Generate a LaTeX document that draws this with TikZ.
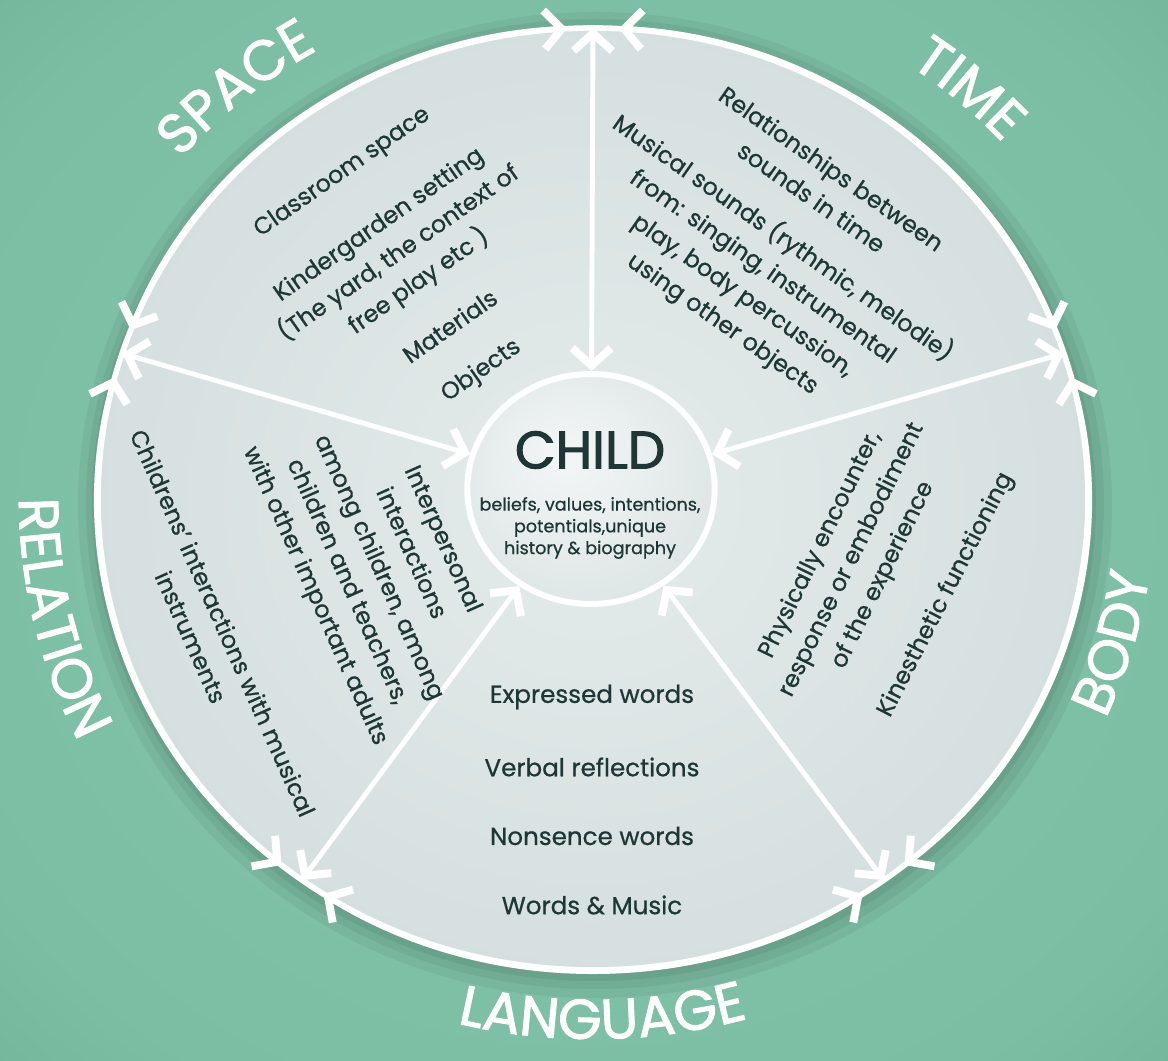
\documentclass[tikz,border=0pt]{standalone}
\usepackage{fontspec}
\setmainfont{Poppins}[FakeBold=0.7]
\usepackage{xcolor}
\usetikzlibrary{arrows.meta, calc, decorations.text, shapes.geometric}

\definecolor{meadowin}{HTML}{88C6AE}
\definecolor{meadow}{HTML}{7BBEA3}
\definecolor{meadowout}{HTML}{5EA88B}
\definecolor{diskin}{HTML}{E4EBEB}
\definecolor{diskmid}{HTML}{D2DCDC}
\definecolor{diskout}{HTML}{B8C6C5}
\definecolor{childin}{HTML}{F3F6F6}
\definecolor{childout}{HTML}{D0DADA}
\definecolor{ink}{HTML}{1E3636}

\pgfdeclareradialshading{meadowshade}{\pgfpoint{0bp}{0bp}}{color(0bp)=(meadowin); color(30bp)=(meadow); color(50bp)=(meadowout); color(75bp)=(meadowout)}
\pgfdeclareradialshading{diskshade}{\pgfpoint{0bp}{0bp}}{color(0bp)=(diskin); color(32bp)=(diskmid); color(50bp)=(diskout)}
\pgfdeclareradialshading{childshade}{\pgfpoint{-6bp}{8bp}}{color(0bp)=(childin); color(50bp)=(childout)}

\newcommand\headfont{\fontsize{32}{32}\selectfont\addfontfeatures{FakeBold=1.6}\color{white}}

\begin{document}
\begin{tikzpicture}[x=0.02cm, y=0.02cm,
    >={Straight Barb[length=10pt, width=22pt, line width=4.5pt]},
    spoke/.style={draw=white, line width=2.8pt, <->},
    rim/.style={draw=white, line width=3.2pt},
    rimarrow/.style={draw=white, line width=3.2pt, <->},
    sectortext/.style={text=ink, align=center, font=\fontsize{13.5}{19.8}\selectfont},
    wordline/.style={text=ink, font=\fontsize{14}{16}\selectfont},
    childnote/.style={text=ink, align=center, font=\fontsize{10}{12.4}\selectfont}]

    \useasboundingbox (0,0) rectangle (1168,1060);
    \shade[shading=meadowshade] (0,0) rectangle (1168,1060);

    \coordinate (C) at (593,561);

    % soft shadow round the disk
    \fill[black, opacity=0.05] ($(C)+(2,-6)$) ellipse[x radius=517, y radius=493];
    \fill[black, opacity=0.05] ($(C)+(2,-5)$) ellipse[x radius=509, y radius=485];
    \fill[black, opacity=0.06] ($(C)+(1,-4)$) ellipse[x radius=502, y radius=478];

    \shade[shading=diskshade] (C) ellipse[x radius=495, y radius=471];

    % junctions on the rim
    \coordinate (jtop) at ($(C)+(90:495 and 471)$);
    \coordinate (jright) at ($(C)+(18:495 and 471)$);
    \coordinate (jlowright) at ($(C)+(-54:495 and 471)$);
    \coordinate (jlowleft) at ($(C)+(-126:495 and 471)$);
    \coordinate (jleft) at ($(C)+(162:495 and 471)$);

    % where the rim arrows start
    \coordinate (atime) at ($(C)+(21:495 and 471)$);
    \coordinate (aspace) at ($(C)+(93:495 and 471)$);
    \coordinate (arelation) at ($(C)+(165:495 and 471)$);
    \coordinate (alanguage) at ($(C)+(237:495 and 471)$);
    \coordinate (abody) at ($(C)+(309:495 and 471)$);

    \node[ellipse, shade, shading=childshade, draw=white, line width=3.4pt,
          minimum width=4.95cm, minimum height=4.6cm] (child) at (591,571) {};

    \draw[rim] (C) ellipse[x radius=495, y radius=471];

    \draw[spoke] (jtop) -- (child);
    \draw[spoke] (jright) -- (child);
    \draw[spoke] (jlowright) -- (child);
    \draw[spoke] (jlowleft) -- (child);
    \draw[spoke] (jleft) -- (child);

    \draw[rimarrow] (atime) arc[start angle=21, end angle=87, x radius=495, y radius=471];
    \draw[rimarrow] (aspace) arc[start angle=93, end angle=159, x radius=495, y radius=471];
    \draw[rimarrow] (arelation) arc[start angle=165, end angle=231, x radius=495, y radius=471];
    \draw[rimarrow] (alanguage) arc[start angle=237, end angle=303, x radius=495, y radius=471];
    \draw[rimarrow] (abody) arc[start angle=309, end angle=375, x radius=495, y radius=471];

    \node[text=ink, font=\fontsize{30}{30}\selectfont\addfontfeatures{FakeBold=2}] (childname) at (590,610) {CHILD};
    \node[childnote] (childtraits) at (590,532) {beliefs, values, intentions,\\potentials,unique\\history \& biography};

    \node[sectortext, rotate=35] (space) at (412,788) {Classroom space\\[17pt]
        Kindergarden setting\\(The yard, the context of\\free play etc )\\[12pt]
        Materials\\[10pt] Objects};
    \node[sectortext, rotate=-35] (time) at (776,812) {Relationships between\\sounds in time\\[8pt]
        Musical sounds (rythmic, melodie)\\from: singing, instrumental\\play, body percussion,\\using other objects};
    \node[sectortext, rotate=-66] (relpeople) at (378,492) {Interpersonal\\interactions\\among children, among\\children and teachers,\\with other important adults};
    \node[sectortext, rotate=-66] (relmusic) at (207,430) {Childrens’ interactions with musical\\instruments};
    \node[sectortext, rotate=64] (bodymove) at (852,500) {Physically encounter,\\response or embodiment\\of the experience};
    \node[sectortext, rotate=63] (bodykin) at (946,465) {Kinesthetic functioning};

    \node[wordline] (expressed) at (592,363) {Expressed words};
    \node[wordline] (verbal) at (592,293) {Verbal reflections};
    \node[wordline] (nonsence) at (592,224) {Nonsence words};
    \node[wordline] (wordsmusic) at (592,155) {Words \& Music};

    % headings round the outside
    \path[decorate, decoration={text along path, text align=center, text={|\headfont|SPACE}}]
        ($(C)+(160:546 and 520)$) arc[start angle=160, end angle=100, x radius=546, y radius=520];
    \path[decorate, decoration={text along path, text align=center, text={|\headfont|TIME}}]
        ($(C)+(78:555 and 528)$) arc[start angle=78, end angle=19, x radius=555, y radius=528];
    \path[decorate, decoration={text along path, text align=center, text={|\headfont|LANGUAGE}}]
        ($(C)+(-121:567 and 540)$) arc[start angle=-121, end angle=-57, x radius=567, y radius=540];
    \path[decorate, decoration={text along path, text align=center, text={|\headfont|RELATION}}]
        ($(C)+(159:574 and 546)$) arc[start angle=159, end angle=227, x radius=574, y radius=546];
    \path[decorate, decoration={text along path, text align=center, text={|\headfont|BODY}}]
        ($(C)+(-47:562 and 535)$) arc[start angle=-47, end angle=15, x radius=562, y radius=535];

\end{tikzpicture}
\end{document}
